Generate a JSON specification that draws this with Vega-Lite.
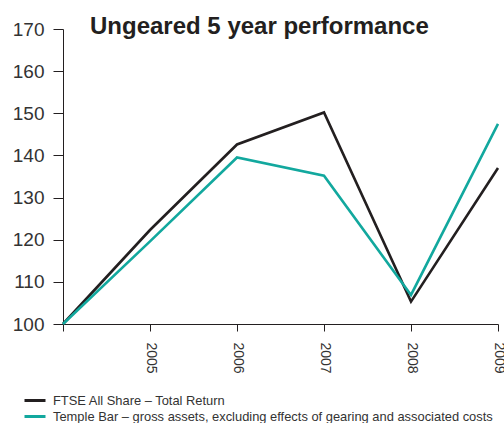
{
  "$schema": "https://vega.github.io/schema/vega-lite/v6.json",
  "autosize": "none",
  "width": 435,
  "height": 295,
  "padding": {"left": 63, "top": 29, "right": 6, "bottom": 99},
  "background": "white",
  "title": {
    "text": "Ungeared 5 year performance",
    "anchor": "start",
    "frame": "group",
    "dx": 27,
    "offset": -38,
    "baseline": "alphabetic",
    "font": "Liberation Sans",
    "fontSize": 24,
    "fontWeight": "bold",
    "color": "#231f20"
  },
  "data": {
    "values": [
      {"year": 2004, "series": "FTSE All Share – Total Return", "value": 100},
      {"year": 2005, "series": "FTSE All Share – Total Return", "value": 122.3},
      {"year": 2006, "series": "FTSE All Share – Total Return", "value": 142.6},
      {"year": 2007, "series": "FTSE All Share – Total Return", "value": 150.2},
      {"year": 2008, "series": "FTSE All Share – Total Return", "value": 105.3},
      {"year": 2009, "series": "FTSE All Share – Total Return", "value": 137},
      {"year": 2004, "series": "Temple Bar – gross assets, excluding effects of gearing and associated costs", "value": 100},
      {"year": 2005, "series": "Temple Bar – gross assets, excluding effects of gearing and associated costs", "value": 119.6},
      {"year": 2006, "series": "Temple Bar – gross assets, excluding effects of gearing and associated costs", "value": 139.5},
      {"year": 2007, "series": "Temple Bar – gross assets, excluding effects of gearing and associated costs", "value": 135.2},
      {"year": 2008, "series": "Temple Bar – gross assets, excluding effects of gearing and associated costs", "value": 106.9},
      {"year": 2009, "series": "Temple Bar – gross assets, excluding effects of gearing and associated costs", "value": 147.5}
    ]
  },
  "mark": {"type": "line", "strokeWidth": 2.6, "clip": false},
  "encoding": {
    "x": {
      "field": "year",
      "type": "quantitative",
      "scale": {"domain": [2004, 2009], "nice": false, "zero": false},
      "axis": {
        "title": null,
        "values": [2004, 2005, 2006, 2007, 2008, 2009],
        "format": "d",
        "labelExpr": "datum.value == 2004 ? '' : datum.label",
        "labelAngle": 90,
        "labelFont": "Liberation Sans",
        "labelFontSize": 14,
        "labelColor": "#333333",
        "labelPadding": 11,
        "tickSize": 7,
        "tickColor": "#231f20",
        "domainColor": "#231f20",
        "grid": false
      }
    },
    "y": {
      "field": "value",
      "type": "quantitative",
      "scale": {"domain": [100, 170], "nice": false, "zero": false},
      "axis": {
        "title": null,
        "values": [100, 110, 120, 130, 140, 150, 160, 170],
        "labelFont": "Liberation Sans",
        "labelFontSize": 19,
        "labelColor": "#333333",
        "labelPadding": 9,
        "tickSize": 10,
        "tickColor": "#231f20",
        "domainColor": "#231f20",
        "grid": false
      }
    },
    "color": {
      "field": "series",
      "type": "nominal",
      "scale": {
        "domain": ["FTSE All Share – Total Return", "Temple Bar – gross assets, excluding effects of gearing and associated costs"],
        "range": ["#231f20", "#12a89e"]
      },
      "legend": {
        "title": null,
        "orient": "none",
        "legendX": -36.5,
        "legendY": 363,
        "symbolType": "M-1.5,0H1.5",
        "symbolSize": 196,
        "symbolStrokeWidth": 3,
        "labelFont": "Liberation Sans",
        "labelFontSize": 12.9,
        "labelColor": "#333333",
        "labelLimit": 600,
        "labelOffset": 9.5,
        "rowPadding": -3
      }
    }
  },
  "config": {"view": {"stroke": null}}
}
